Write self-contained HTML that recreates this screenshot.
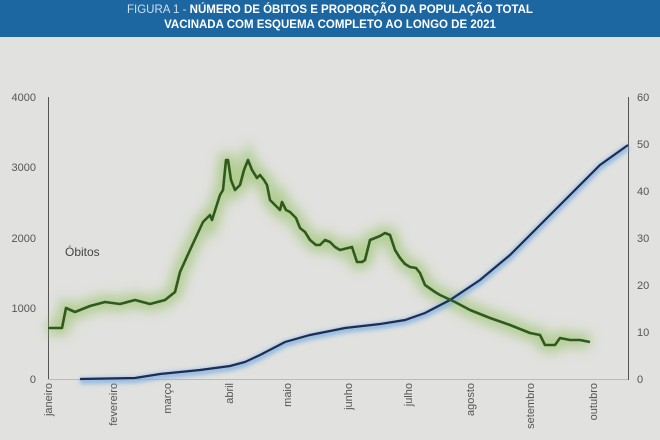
<!DOCTYPE html>
<html><head><meta charset="utf-8"><style>
body{margin:0;width:660px;height:440px;background:#e1e1df;font-family:"Liberation Sans",sans-serif;overflow:hidden}
.hd{position:absolute;left:0;top:0;width:660px;height:37px;background:#1c66a2;color:#fff;text-align:center;font-size:11.5px;line-height:15px;padding-top:3px;box-sizing:border-box;font-weight:bold}
.hd span{font-weight:normal;color:#cfe0ef}
</style></head><body>
<div class="hd"><span>FIGURA 1 - </span>NÚMERO DE ÓBITOS E PROPORÇÃO DA POPULAÇÃO TOTAL<br>VACINADA COM ESQUEMA COMPLETO AO LONGO DE 2021</div>
<svg width="660" height="440" style="position:absolute;left:0;top:0">
<defs><filter id="b" x="-20%" y="-20%" width="140%" height="140%"><feGaussianBlur stdDeviation="6"/></filter>
<filter id="b2"><feGaussianBlur stdDeviation="2"/></filter></defs>
<g font-size="11" fill="#555">
<text x="36" y="101" text-anchor="end">4000</text>
<text x="36" y="171" text-anchor="end">3000</text>
<text x="36" y="242" text-anchor="end">2000</text>
<text x="36" y="312" text-anchor="end">1000</text>
<text x="36" y="383" text-anchor="end">0</text>
<g text-anchor="start">
<text x="637" y="101">60</text><text x="637" y="148">50</text><text x="637" y="195">40</text><text x="637" y="242">30</text><text x="637" y="289">20</text><text x="637" y="336">10</text><text x="637" y="383">0</text></g>
</g>
<line x1="48.5" y1="97" x2="48.5" y2="380" stroke="#555"/>
<line x1="628.5" y1="97" x2="628.5" y2="380" stroke="#555"/>
<line x1="48" y1="379.5" x2="628" y2="379.5" stroke="#bbb"/>
<g font-size="11" fill="#555" text-anchor="end">
<text transform="translate(52,383) rotate(-90)">janeiro</text>
<text transform="translate(117,383) rotate(-90)">fevereiro</text>
<text transform="translate(171,383) rotate(-90)">março</text>
<text transform="translate(233,383) rotate(-90)">abril</text>
<text transform="translate(291,383) rotate(-90)">maio</text>
<text transform="translate(352,383) rotate(-90)">junho</text>
<text transform="translate(412,383) rotate(-90)">julho</text>
<text transform="translate(474,383) rotate(-90)">agosto</text>
<text transform="translate(534,383) rotate(-90)">setembro</text>
<text transform="translate(597,383) rotate(-90)">outubro</text>
</g>
<text x="65" y="256" font-size="12" fill="#444">Óbitos</text>
<defs><polyline id="gp" fill="none" points="48,328 62,328 66,308 75,312 90,306 105,302 120,304 135,300 150,304 165,300 175,292 180,272 190,250 203,222 210,215 212,220 220,195 223,190 226,160 228,160 231,180 235,190 240,185 244,170 248,160 252,170 257,178 260,175 264,180 267,185 270,200 275,205 280,210 282,202 286,210 290,212 296,218 300,228 305,232 310,240 316,245 320,245 325,240 330,242 335,247 340,250 348,248 352,247 357,262 362,262 365,260 370,240 375,238 380,236 385,233 390,235 395,250 400,258 405,264 410,267 416,268 420,273 425,285 435,292 440,295 455,302 470,310 490,318 510,325 530,333 540,335 545,345 555,345 560,338 570,340 580,340 590,342"/></defs>
<use href="#gp" stroke="#8fbf5a" stroke-width="14" opacity="0.6" filter="url(#b)"/>
<polyline fill="none" stroke="#7fb0e0" stroke-width="6" opacity="0.8" filter="url(#b2)" points="80,381 135,380 160,376 200,372 230,368 245,364 260,357 285,344 310,337 345,330 380,326 405,322 425,315 450,302 480,282 510,257 540,227 570,197 600,167 628,147"/>
<polyline fill="none" stroke="#1d2d55" stroke-width="2.2" points="80,379 135,378 160,374 200,370 230,366 245,362 260,355 285,342 310,335 345,328 380,324 405,320 425,313 450,300 480,280 510,255 540,225 570,195 600,165 628,145"/>
<use href="#gp" stroke="#2f5a1e" stroke-width="2.6" stroke-linejoin="round"/>
</svg>
</body></html>
